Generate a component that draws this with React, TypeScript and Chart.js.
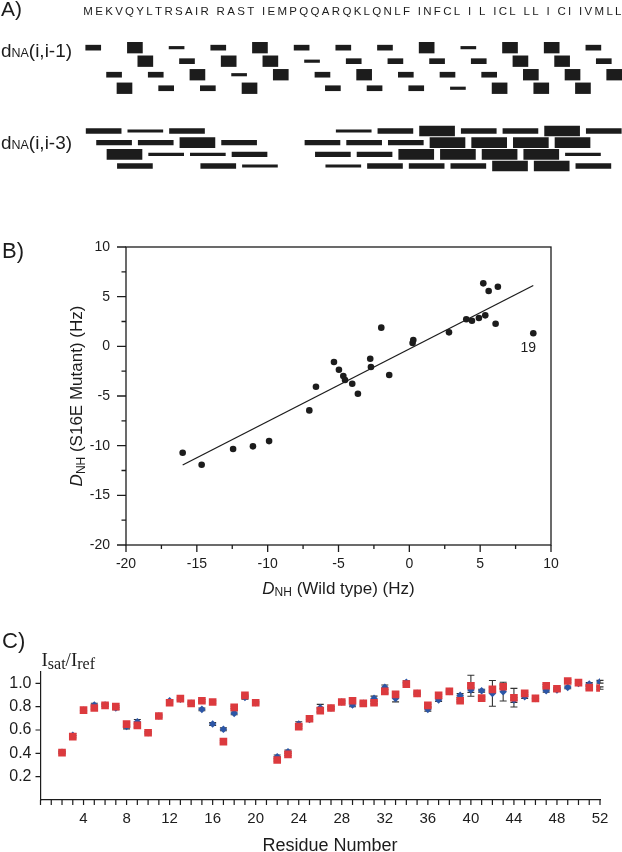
import React, { useEffect, useRef } from 'react';
import { Chart, registerables } from 'chart.js';

Chart.register(...registerables);

const SANS = '"Liberation Sans", Arial, Helvetica, sans-serif';
const SERIF = '"Liberation Serif", "Times New Roman", serif';
const INK = '#1c1c1c';
const RED = '#dc3a3e';
const BLUE = '#2c56a6';

// ---------------- Panel A : sequential / medium-range NOEs ----------------
const sequenceText = 'MEKVQYLTRSAIR RAST IEMPQQARQKLQNLF INFCL I L ICL LL I CI IVMLL';
const noeRows = ['r1', 'r2', 'r3', 'r4'];
const noeClassNames = ['weak', 'medium', 'strong'];
// intensity codes: 0 none, 1 weak, 2 medium, 3 strong
const dNAi1Start = 2; // residues 2..52
const dNAi1 = [
  2, 0, 2, 3, 3, 3, 2, 2, 1, 2,
  3, 2, 2, 3, 1, 3, 3, 3, 3, 0,
  2, 1, 2, 2, 2, 2, 3, 2, 2, 2,
  2, 2, 3, 2, 2, 1, 1, 2, 2, 3,
  3, 3, 3, 3, 3, 3, 3, 3, 2, 2,
  3,
];
const dNAi3Start = 4; // residues 4..52
const dNAi3 = [
  2, 2, 3, 2, 1, 2, 1, 0, 2, 3,
  1, 2, 0, 2, 2, 1, 0, 0, 0, 0,
  0, 2, 2, 1, 1, 2, 2, 2, 2, 2,
  3, 2, 3, 3, 3, 2, 2, 3, 3, 3,
  2, 3, 3, 3, 3, 3, 1, 2, 2,
];

// ---------------- Panel B : RDC correlation ----------------
const rdcWildType = [
  -16.0, -14.66, -12.44, -11.04, -9.9, -7.06, -6.59, -5.32, -4.97, -4.66,
  -4.54, -4.03, -3.63, -2.76, -2.71, -1.98, -1.42, 0.23, 0.28, 2.8,
  4.02, 4.42, 4.91, 5.22, 5.36, 5.6, 6.09, 6.25, 8.75,
];
const rdcMutant = [
  -10.71, -11.92, -10.34, -10.07, -9.54, -6.45, -4.07, -1.58, -2.35, -2.99,
  -3.39, -3.76, -4.77, -1.25, -2.08, 1.88, -2.89, 0.33, 0.63, 1.41,
  2.72, 2.58, 2.85, 6.34, 3.12, 5.57, 2.28, 6.0, 1.31,
];
const fitLineX = [-16, 8.75];
const fitLineY = [-11.95, 6.12];
const labelledPointIndex = 28;
const labelledPointText = '19';

// ---------------- Panel C : saturation transfer ----------------
const residues = [
  2, 3, 4, 5, 6, 7, 8, 9, 10, 11,
  12, 13, 14, 15, 16, 17, 18, 19, 20, 21,
  22, 23, 24, 25, 26, 27, 28, 29, 30, 31,
  32, 33, 34, 35, 36, 37, 38, 39, 40, 41,
  42, 43, 44, 45, 46, 47, 48, 49, 50, 51,
  52,
];
const isatRed = [
  0.406, 0.543, 0.771, 0.789, 0.811, 0.8, 0.651, 0.64, 0.577, 0.72,
  0.834, 0.869, 0.829, 0.851, 0.84, 0.5, 0.794, 0.897, 0.834, null,
  0.343, 0.391, 0.629, 0.697, 0.766, 0.789, 0.84, 0.851, 0.829, 0.834,
  0.931, 0.906, 0.994, 0.914, 0.811, 0.897, 0.931, 0.851, 0.98, 0.874,
  0.949, 0.971, 0.877, 0.914, 0.871, 0.98, 0.954, 1.02, 1.006, 0.963,
  0.96,
];
const isatBlue = [
  0.41, 0.555, 0.77, 0.814, 0.815, 0.79, 0.63, 0.67, 0.577, 0.72,
  0.85, 0.865, 0.829, 0.777, 0.651, 0.606, 0.743, 0.88, 0.834, null,
  0.371, 0.414, 0.651, 0.69, 0.79, 0.789, 0.84, 0.814, 0.83, 0.871,
  0.966, 0.871, 1.01, 0.914, 0.777, 0.857, 0.93, 0.897, 0.943, 0.937,
  0.914, 0.929, 0.857, 0.886, 0.87, 0.937, 0.943, 0.966, 1.0, 0.994,
  1.014,
];
const errRed = [
  0.01, 0.01, 0.01, 0.01, 0.01, 0.01, 0.015, 0.015, 0.01, 0.01,
  0.01, 0.01, 0.01, 0.01, 0.01, 0.01, 0.01, 0.01, 0.01, null,
  0.01, 0.01, 0.015, 0.01, 0.015, 0.01, 0.01, 0.01, 0.01, 0.01,
  0.015, 0.02, 0.01, 0.01, 0.01, 0.01, 0.01, 0.01, 0.09, 0.01,
  0.015, 0.015, 0.08, 0.01, 0.01, 0.01, 0.01, 0.01, 0.01, 0.01,
  0.01,
];
const errBlue = [
  0.01, 0.015, 0.01, 0.015, 0.012, 0.015, 0.02, 0.02, 0.01, 0.01,
  0.012, 0.012, 0.01, 0.012, 0.012, 0.012, 0.012, 0.015, 0.01, null,
  0.015, 0.015, 0.02, 0.015, 0.03, 0.012, 0.012, 0.015, 0.012, 0.02,
  0.02, 0.03, 0.012, 0.012, 0.015, 0.012, 0.012, 0.015, 0.02, 0.012,
  0.11, 0.08, 0.02, 0.015, 0.012, 0.012, 0.012, 0.012, 0.012, 0.012,
  0.012,
];

// ---------------- helpers ----------------
type Part = { text: string; font: string; dy?: number };

function measureParts(ctx: CanvasRenderingContext2D, parts: Part[]) {
  return parts.map((p) => {
    ctx.font = p.font;
    return ctx.measureText(p.text).width;
  });
}

function drawParts(ctx: CanvasRenderingContext2D, parts: Part[], x: number, y: number, align: 'left' | 'center') {
  const widths = measureParts(ctx, parts);
  const total = widths.reduce((a, b) => a + b, 0);
  let cx = align === 'center' ? x - total / 2 : x;
  ctx.textAlign = 'left';
  ctx.textBaseline = 'alphabetic';
  parts.forEach((p, i) => {
    ctx.font = p.font;
    ctx.fillText(p.text, cx, y + (p.dy || 0));
    cx += widths[i];
  });
}

function drawPartsFit(ctx: CanvasRenderingContext2D, parts: Part[], x: number, y: number, width: number) {
  const total = measureParts(ctx, parts).reduce((a, b) => a + b, 0);
  ctx.save();
  ctx.translate(x, y);
  ctx.scale(width / total, 1);
  drawParts(ctx, parts, 0, 0, 'left');
  ctx.restore();
}

function drawSpaced(ctx: CanvasRenderingContext2D, text: string, x0: number, x1: number, y: number, font: string) {
  ctx.font = font;
  ctx.textAlign = 'left';
  ctx.textBaseline = 'alphabetic';
  const chars = text.split('');
  const widths = chars.map((c) => ctx.measureText(c).width);
  const total = widths.reduce((a, b) => a + b, 0);
  const gap = (x1 - x0 - total) / (chars.length - 1);
  let cx = x0;
  chars.forEach((c, i) => {
    ctx.fillText(c, cx, y);
    cx += widths[i] + gap;
  });
}

function noeLabelParts(suffix: string): Part[] {
  return [
    { text: 'd', font: `19px ${SANS}` },
    { text: 'NA', font: `12.5px ${SANS}` },
    { text: suffix, font: `19px ${SANS}` },
  ];
}

function noeDatasets(values: number[], start: number, span: number, pad: number, thickness: number[]) {
  return [1, 2, 3].map((cls) => ({
    label: noeClassNames[cls - 1],
    data: values.flatMap((v, k) => {
      if (v !== cls) return [];
      const i = start + k;
      return [{ x: [i - span - pad, i + pad], y: noeRows[(i - start) % 4] }];
    }),
    backgroundColor: INK,
    borderWidth: 0,
    barThickness: thickness[cls - 1],
    grouped: false,
    clip: false,
  }));
}

function noeConfig(values: number[], start: number, span: number, pad: number, thickness: number[], padTop: number, padBottom: number, textPlugin: any) {
  return {
    type: 'bar',
    data: { labels: noeRows, datasets: noeDatasets(values, start, span, pad, thickness) },
    options: {
      indexAxis: 'y',
      responsive: false,
      animation: false,
      events: [],
      layout: { padding: { left: 82.81, right: 0.5, top: padTop, bottom: padBottom } },
      scales: {
        x: { type: 'linear', min: 0.5, max: 52.2, display: false },
        y: { type: 'category', display: false, offset: true },
      },
      plugins: { legend: { display: false }, tooltip: { enabled: false } },
    },
    plugins: [textPlugin],
  };
}

const panelATopText = {
  id: 'panelATopText',
  afterDraw(chart: any) {
    const ctx = chart.ctx;
    ctx.save();
    ctx.fillStyle = INK;
    ctx.font = `21px ${SANS}`;
    ctx.textAlign = 'left';
    ctx.textBaseline = 'alphabetic';
    ctx.fillText('A)', 1, 16);
    drawSpaced(ctx, sequenceText, 83.3, 621.5, 15.3, `11.5px ${SANS}`);
    drawPartsFit(ctx, noeLabelParts('(i,i-1)'), 1, 56.5, 71);
    ctx.restore();
  },
};

const panelABottomText = {
  id: 'panelABottomText',
  afterDraw(chart: any) {
    const ctx = chart.ctx;
    ctx.save();
    ctx.fillStyle = INK;
    drawPartsFit(ctx, noeLabelParts('(i,i-3)'), 1, 49, 71);
    ctx.restore();
  },
};

// ---------------- Panel B config ----------------
const panelBPlugin = {
  id: 'panelBDecor',
  afterDraw(chart: any) {
    const ctx = chart.ctx;
    const a = chart.chartArea;
    const xs = chart.scales.x;
    const ys = chart.scales.y;
    ctx.save();
    ctx.strokeStyle = INK;
    ctx.lineWidth = 1.3;
    ctx.strokeRect(a.left, a.top, a.right - a.left, a.bottom - a.top);
    ctx.beginPath();
    ys.ticks.forEach((t: any) => {
      const p = ys.getPixelForValue(t.value);
      const len = Math.abs(t.value % 5) < 1e-6 ? 9 : 4.5;
      ctx.moveTo(a.left - len, p);
      ctx.lineTo(a.left, p);
    });
    xs.ticks.forEach((t: any) => {
      const p = xs.getPixelForValue(t.value);
      const len = Math.abs(t.value % 5) < 1e-6 ? 7 : 4;
      ctx.moveTo(p, a.bottom);
      ctx.lineTo(p, a.bottom + len);
    });
    ctx.stroke();

    ctx.fillStyle = INK;
    ctx.font = `22px ${SANS}`;
    ctx.textAlign = 'left';
    ctx.textBaseline = 'alphabetic';
    ctx.fillText('B)', 2, 73);

    const xParts: Part[] = [
      { text: 'D', font: `italic 17px ${SANS}` },
      { text: 'NH', font: `12px ${SANS}`, dy: 2.5 },
      { text: ' (Wild type) (Hz)', font: `17px ${SANS}` },
    ];
    drawParts(ctx, xParts, (a.left + a.right) / 2, 408.5, 'center');

    const yParts: Part[] = [
      { text: 'D', font: `italic 17px ${SANS}` },
      { text: 'NH', font: `12px ${SANS}`, dy: 2.5 },
      { text: ' (S16E Mutant) (Hz)', font: `17px ${SANS}` },
    ];
    ctx.save();
    ctx.translate(82, (a.top + a.bottom) / 2);
    ctx.rotate(-Math.PI / 2);
    drawParts(ctx, yParts, 0, 0, 'center');
    ctx.restore();

    const px = xs.getPixelForValue(rdcWildType[labelledPointIndex]);
    const py = ys.getPixelForValue(rdcMutant[labelledPointIndex]);
    ctx.font = `14px ${SANS}`;
    ctx.textAlign = 'center';
    ctx.fillText(labelledPointText, px - 5, py + 18.5);
    ctx.restore();
  },
};

const tickFontB = { family: SANS, size: 14 };

const panelBConfig = {
  type: 'scatter',
  data: {
    datasets: [
      {
        label: 'RDC',
        data: rdcWildType.map((x, i) => ({ x, y: rdcMutant[i] })),
        pointRadius: 3.3,
        pointBackgroundColor: INK,
        pointBorderWidth: 0,
        backgroundColor: INK,
      },
      {
        label: 'fit',
        type: 'line',
        data: fitLineX.map((x, i) => ({ x, y: fitLineY[i] })),
        borderColor: INK,
        borderWidth: 1.3,
        pointRadius: 0,
        fill: false,
        showLine: true,
      },
    ],
  },
  options: {
    responsive: false,
    animation: false,
    events: [],
    layout: { padding: { left: 0, right: 71, top: 62, bottom: 0 } },
    plugins: { legend: { display: false }, tooltip: { enabled: false } },
    scales: {
      x: {
        type: 'linear',
        min: -20,
        max: 10,
        grid: { display: false, drawTicks: false },
        border: { display: false },
        ticks: {
          stepSize: 2.5,
          autoSkip: false,
          maxRotation: 0,
          padding: 11,
          color: INK,
          font: tickFontB,
          callback: (v: number) => (Math.abs(v % 5) < 1e-6 ? String(v) : ''),
        },
        afterFit: (s: any) => {
          s.height = 55;
        },
      },
      y: {
        type: 'linear',
        min: -20,
        max: 10,
        grid: { display: false, drawTicks: false },
        border: { display: false },
        ticks: {
          stepSize: 2.5,
          autoSkip: false,
          padding: 16,
          color: INK,
          font: tickFontB,
          callback: (v: number) => (Math.abs(v % 5) < 1e-6 ? String(v) : ''),
        },
        afterFit: (s: any) => {
          s.width = 126;
        },
      },
    },
  },
  plugins: [panelBPlugin],
};

// ---------------- Panel C config ----------------
const panelCPlugin = {
  id: 'panelCDecor',
  beforeDatasetsDraw(chart: any) {
    const ctx = chart.ctx;
    const xs = chart.scales.x;
    const ys = chart.scales.y;
    ctx.save();
    ctx.strokeStyle = '#333333';
    ctx.lineWidth = 1.1;
    ctx.beginPath();
    const drawErr = (vals: (number | null)[], errs: (number | null)[]) => {
      residues.forEach((r, i) => {
        const v = vals[i];
        const e = errs[i];
        if (v === null || e === null) return;
        const px = xs.getPixelForValue(r);
        const top = ys.getPixelForValue(v + e);
        const bot = ys.getPixelForValue(v - e);
        ctx.moveTo(px, top);
        ctx.lineTo(px, bot);
        ctx.moveTo(px - 3.5, top);
        ctx.lineTo(px + 3.5, top);
        ctx.moveTo(px - 3.5, bot);
        ctx.lineTo(px + 3.5, bot);
      });
    };
    drawErr(isatBlue, errBlue);
    drawErr(isatRed, errRed);
    ctx.stroke();
    ctx.restore();
  },
  afterDraw(chart: any) {
    const ctx = chart.ctx;
    const a = chart.chartArea;
    const xs = chart.scales.x;
    const ys = chart.scales.y;
    ctx.save();
    ctx.strokeStyle = INK;
    ctx.lineWidth = 1.2;
    ctx.beginPath();
    ys.ticks.forEach((t: any) => {
      if (t.value <= 0.01) return;
      const p = ys.getPixelForValue(t.value);
      ctx.moveTo(a.left - 5, p);
      ctx.lineTo(a.left, p);
    });
    xs.ticks.forEach((t: any) => {
      const p = xs.getPixelForValue(t.value);
      ctx.moveTo(p, a.bottom);
      ctx.lineTo(p, a.bottom + 5);
    });
    ctx.stroke();

    ctx.fillStyle = INK;
    ctx.textAlign = 'left';
    ctx.textBaseline = 'alphabetic';
    ctx.font = `22px ${SANS}`;
    ctx.fillText('C)', 2, 48);

    const yParts: Part[] = [
      { text: 'I', font: `19px ${SERIF}` },
      { text: 'sat', font: `16px ${SERIF}`, dy: 2.5 },
      { text: '/I', font: `19px ${SERIF}` },
      { text: 'ref', font: `16px ${SERIF}`, dy: 2.5 },
    ];
    drawParts(ctx, yParts, 41.5, 66, 'left');

    ctx.font = `18px ${SANS}`;
    ctx.textAlign = 'center';
    ctx.fillText('Residue Number', 330, 250.5);
    ctx.restore();
  },
};

const panelCConfig = {
  type: 'scatter',
  data: {
    datasets: [
      {
        label: 'red',
        data: residues
          .map((r, i) => ({ x: r, y: isatRed[i] }))
          .filter((p) => p.y !== null),
        pointStyle: 'rect',
        pointRadius: 5.4,
        pointBackgroundColor: RED,
        backgroundColor: RED,
        pointBorderWidth: 0,
      },
      {
        label: 'blue',
        data: residues
          .map((r, i) => ({ x: r, y: isatBlue[i] }))
          .filter((p) => p.y !== null),
        pointStyle: 'rectRot',
        pointRadius: 3.8,
        pointBackgroundColor: BLUE,
        backgroundColor: BLUE,
        pointBorderWidth: 0,
      },
    ],
  },
  options: {
    responsive: false,
    animation: false,
    events: [],
    layout: { padding: { left: 0, right: 22, top: 71.7, bottom: 0 } },
    plugins: { legend: { display: false }, tooltip: { enabled: false } },
    scales: {
      x: {
        type: 'linear',
        min: 0,
        max: 52,
        grid: { display: false, drawTicks: false },
        border: { display: true, color: INK, width: 1.2 },
        ticks: {
          stepSize: 1,
          autoSkip: false,
          maxRotation: 0,
          padding: 10,
          color: INK,
          font: { family: SANS, size: 15 },
          callback: (v: number) => (v > 0 && v % 4 === 0 ? String(v) : ''),
        },
        afterFit: (s: any) => {
          s.height = 52;
        },
      },
      y: {
        type: 'linear',
        min: 0,
        max: 1.1,
        grid: { display: false, drawTicks: false },
        border: { display: true, color: INK, width: 1.2 },
        ticks: {
          stepSize: 0.2,
          includeBounds: false,
          autoSkip: false,
          padding: 9,
          color: INK,
          font: { family: SANS, size: 16 },
          callback: (v: number) => (v > 0.01 && v < 1.05 ? v.toFixed(1) : ''),
        },
        afterFit: (s: any) => {
          s.width = 40.5;
        },
      },
    },
  },
  plugins: [panelCPlugin],
};

const panelA1Config = noeConfig(dNAi1, dNAi1Start, 1, 0.22, [2.5, 5, 10.7], 40.9, 5, panelATopText);
const panelA2Config = noeConfig(dNAi3, dNAi3Start, 3, 0.18, [2.5, 4.7, 10], 25.2, 8.2, panelABottomText);

function ChartCanvas({ config, top, height }: { config: any; top: number; height: number }) {
  const ref = useRef<HTMLCanvasElement | null>(null);
  useEffect(() => {
    if (!ref.current) return;
    const chart = new Chart(ref.current, config);
    return () => chart.destroy();
  }, [config]);
  return (
    <canvas
      ref={ref}
      width={622}
      height={height}
      style={{ position: 'absolute', left: 0, top, width: 622, height, display: 'block' }}
    />
  );
}

export default function App() {
  return (
    <div style={{ position: 'absolute', left: 0, top: 0, width: 622, height: 852, background: '#ffffff', overflow: 'hidden' }}>
      <ChartCanvas config={panelA1Config} top={0} height={100} />
      <ChartCanvas config={panelA2Config} top={100} height={80} />
      <ChartCanvas config={panelBConfig} top={185} height={415} />
      <ChartCanvas config={panelCConfig} top={600} height={252} />
    </div>
  );
}
